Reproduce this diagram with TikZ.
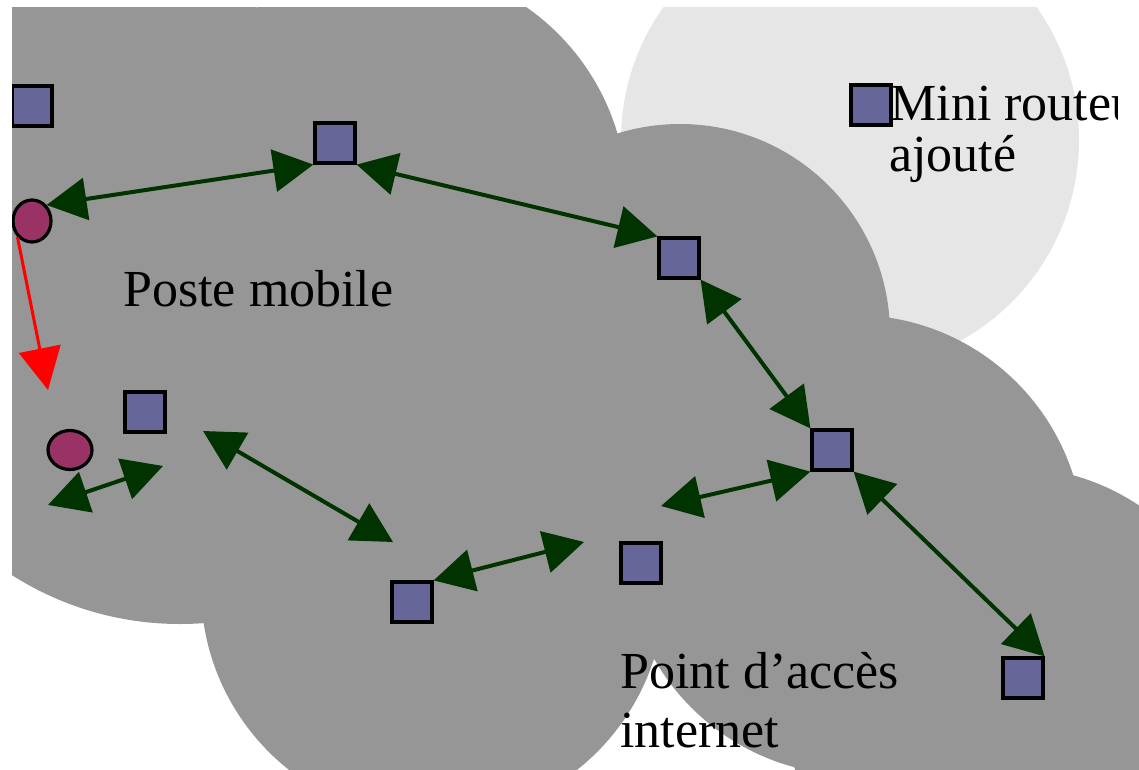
\documentclass[tikz,border=0pt]{standalone}
\usepackage{fontspec}
\setmainfont{Liberation Serif}
\usepackage{tikz}
\usetikzlibrary{shapes.geometric, arrows.meta}
\definecolor{cellgray}{RGB}{150,150,150}
\definecolor{newcell}{RGB}{230,230,230}
\definecolor{routerblue}{RGB}{102,102,153}
\definecolor{mobilepink}{RGB}{153,51,102}
\definecolor{linkgreen}{RGB}{0,51,0}
\tikzset{
  cell/.style={fill=cellgray, draw=none},
  newcellarea/.style={fill=newcell, draw=none},
  router/.style={rectangle, draw=black, fill=routerblue, line width=1.6pt,
    minimum size=20pt, inner sep=0pt},
  mobile/.style={ellipse, draw=black, fill=mobilepink, line width=1.6pt,
    inner sep=0pt},
  link/.style={<->, >={Triangle[length=20pt, width=21pt]}, line width=2pt, color=linkgreen},
  move/.style={->, >={Triangle[length=21pt, width=21pt]}, line width=1.5pt, color=red},
  lbltext/.style={font=\fontsize{26}{30}\selectfont, inner sep=0pt, anchor=base west}
}

\begin{document}
\begin{tikzpicture}[x=0.5pt, y=-0.5pt]
  \useasboundingbox (0,0) rectangle (1139,770);

  \begin{scope}
  \clip (12,8) rectangle (1139,770);
  % coverage areas
  \fill[newcellarea] (850,140) circle (229);
  \fill[cell] (40,150) circle (200);
  \fill[cell] (180,311) circle (313);
  \fill[cell] (392,200) circle (235);
  \fill[cell] (680,334) circle (210);
  \fill[cell] (854,545) circle (230);
  \fill[cell] (1012,696) circle (229);
  \fill[cell] (433,588) circle (232);
  \fill[cell] (777,586) circle (132);

  \node[router] (r1) at (32,106) {};
  \node[router] (r2) at (335,143) {};
  \node[router] (r3) at (679,258) {};
  \node[router] (r4) at (832,450) {};
  \node[router] (r5) at (1023,678) {};
  \node[router] (r6) at (641,563) {};
  \node[router] (r7) at (412,602) {};
  \node[router] (r8) at (145,412) {};
  \node[router] (rnew) at (871,105) {};
  \node[mobile, minimum width=19pt, minimum height=21pt] (m1) at (32,221) {};
  \node[mobile, minimum width=22pt, minimum height=19.5pt] (m2) at (70,450) {};

  \coordinate (p5) at (661,506);
  \coordinate (p6) at (584,542);
  \coordinate (p7a) at (203,431);
  \coordinate (p7b) at (393,542);
  \coordinate (p8a) at (48,505);
  \coordinate (p8b) at (163,466);
  \coordinate (mv) at (48,390);

  % links between routers
  \draw[link] (m1.north east) -- (r2.south west);
  \draw[link] (r2.south east) -- (r3.north west);
  \draw[link] (r3.south east) -- (r4.north west);
  \draw[link] (r4.south east) -- (r5.north east);
  \draw[link] (r4.south west) -- (p5);
  \draw[link] (r7.north east) -- (p6);
  \draw[link] (p7a) -- (p7b);
  \draw[link] (p8a) -- (p8b);
  \draw[move] (m1.south west) -- (mv);

  \node[lbltext] (lblmobile) at (123,306) {Poste mobile};
  \node[lbltext] (lblaccess) at (620,688) {Point d’accès};
  \node[lbltext] (lblinternet) at (620,747) {internet};
  \node[lbltext] (lbladded) at (889,172) {ajouté};
  \end{scope}

  \begin{scope}
  \clip (12,8) rectangle (1117,770);
  \node[lbltext] (lblrouter) at (890,121) {Mini routeur};
  \end{scope}
\end{tikzpicture}
\end{document}
